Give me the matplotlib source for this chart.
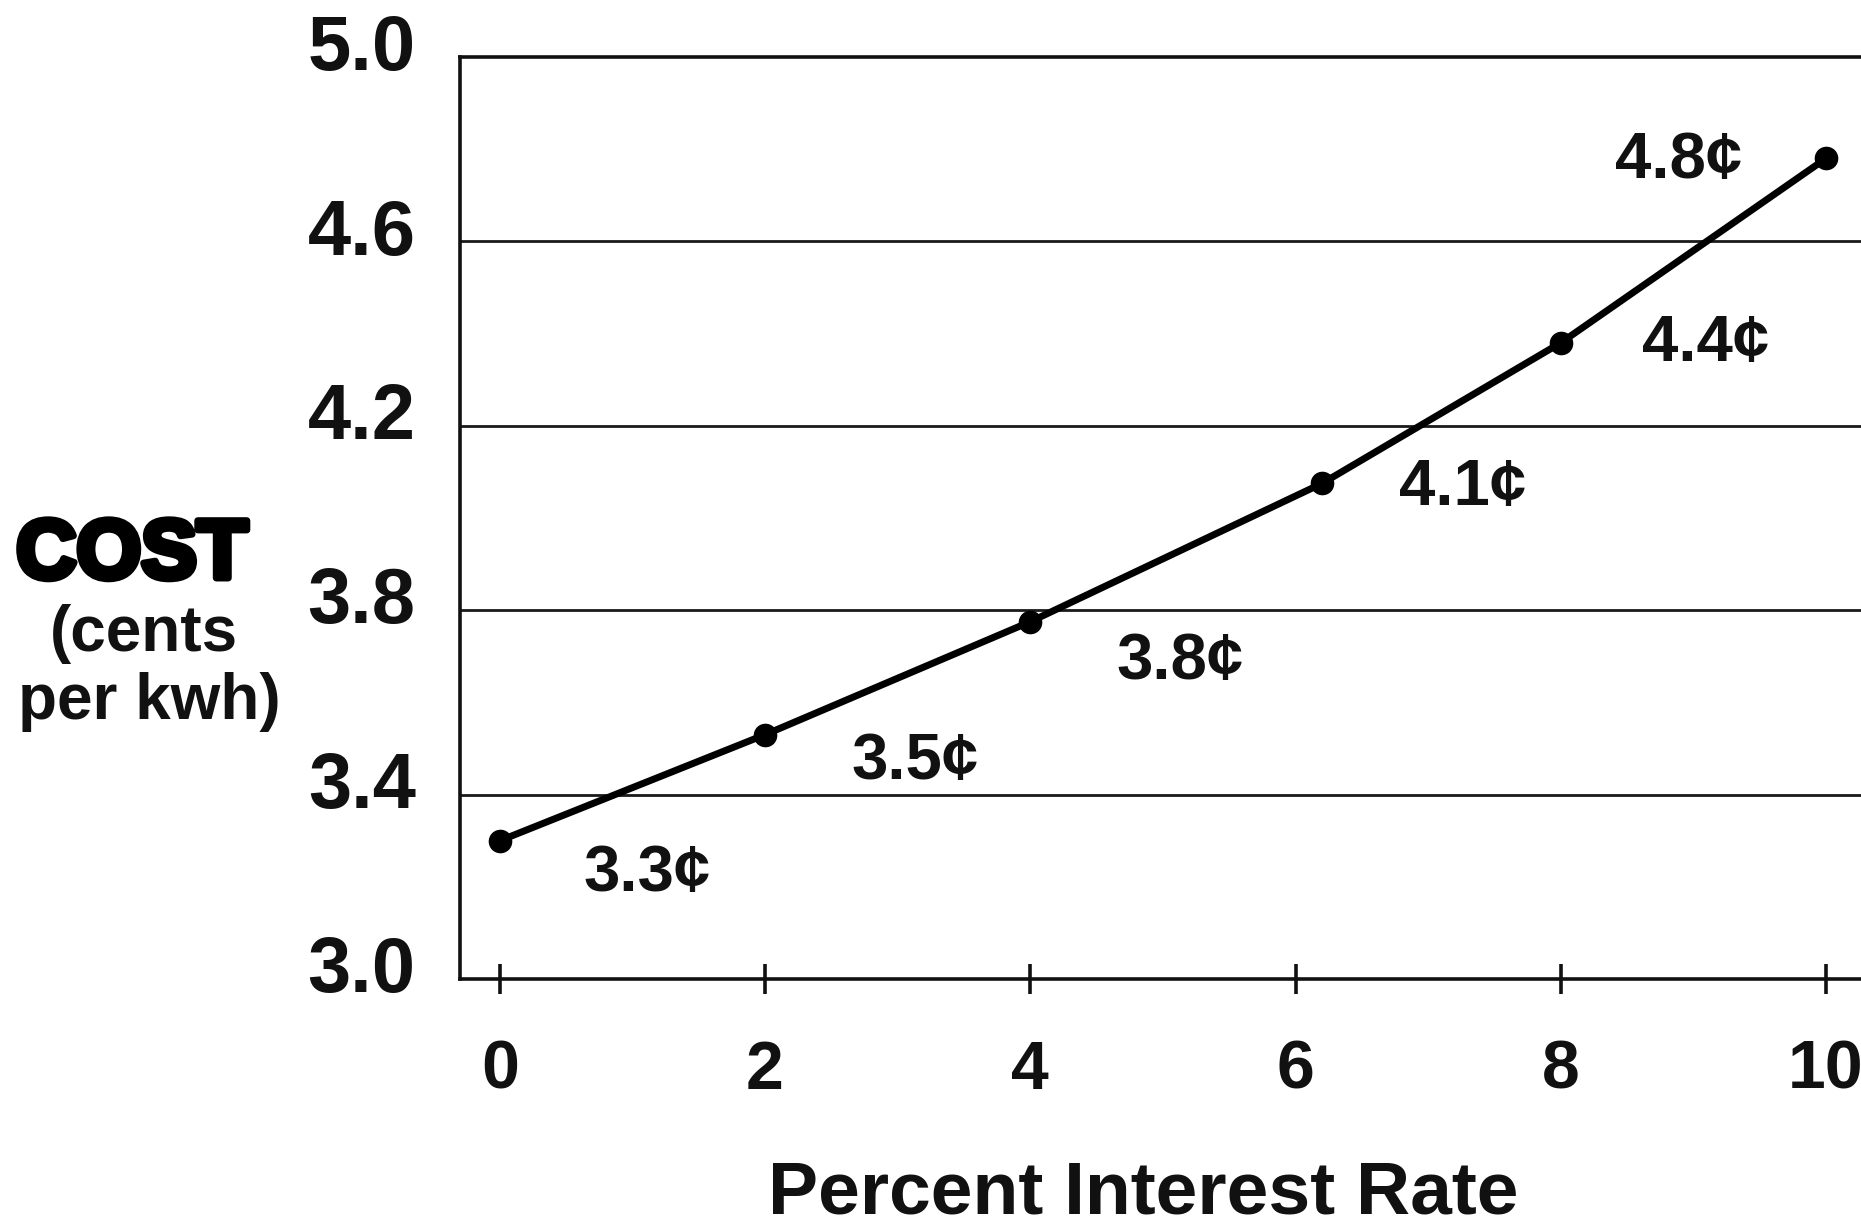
import matplotlib
matplotlib.use("Agg")
import matplotlib.pyplot as plt
import matplotlib.patheffects as pe
from matplotlib.transforms import ScaledTranslation

# ---- data ----
interest_rate = [0, 2, 4, 6.2, 8, 10]
cost = [3.30, 3.53, 3.775, 4.075, 4.38, 4.78]
cost_labels = ["3.3¢", "3.5¢", "3.8¢", "4.1¢", "4.4¢", "4.8¢"]
x_ticks = [0, 2, 4, 6, 8, 10]
x_tick_labels = ["0", "2", "4", "6", "8", "10"]
y_ticks = [3.0, 3.4, 3.8, 4.2, 4.6, 5.0]
y_tick_labels = ["3.0", "3.4", "3.8", "4.2", "4.6", "5.0"]

# label offsets (points) relative to each marker - styling only
label_offsets = [(106, -24), (108, -20), (108, -29), (101, -3), (104, -1), (-106, -2)]

FONT = ["Liberation Sans", "DejaVu Sans"]
plt.rcParams["font.family"] = FONT

W, H = 1861, 1225
fig = plt.figure(figsize=(W / 100, H / 100), dpi=100)
fig.patch.set_facecolor("white")

left_px, bottom_px, top_px = 460, 979, 57
xmin, xmax = -0.30, 10.5
px_per_unit = 132.6
right_px = 500 + xmax * px_per_unit
ax = fig.add_axes([left_px / W, 1 - bottom_px / H,
                   (right_px - left_px) / W, (bottom_px - top_px) / H])
ax.set_xlim(xmin, xmax)
ax.set_ylim(3.0, 5.0)

for s in ["left", "bottom", "top"]:
    ax.spines[s].set_linewidth(2.6)
    ax.spines[s].set_color("#111111")
ax.spines["right"].set_visible(False)

# grid lines
for yv in y_ticks[1:-1]:
    ax.axhline(yv, color="#1a1a1a", lw=2.0, zorder=1)

ax.plot(interest_rate, cost, color="black", lw=5, marker="o",
        markersize=16, zorder=3, solid_capstyle="round")

for xv, yv, lab, off in zip(interest_rate, cost, cost_labels, label_offsets):
    ax.annotate(lab, (xv, yv), xytext=off, textcoords="offset points",
                ha="center", va="center", fontsize=47, fontweight="bold",
                color="#111111")

ax.set_xticks(x_ticks)
ax.set_xticklabels(x_tick_labels)
ax.set_yticks(y_ticks)
ax.set_yticklabels(y_tick_labels)
ax.tick_params(axis="x", direction="inout", length=22, width=2.6,
               pad=32, labelsize=49, colors="#111111")
ax.tick_params(axis="y", length=0, pad=32, labelsize=56, colors="#111111")
for t in ax.get_xticklabels() + ax.get_yticklabels():
    t.set_fontweight("bold")
shift = ScaledTranslation(0, 11 / 72, fig.dpi_scale_trans)
for t in ax.get_yticklabels():
    t.set_transform(t.get_transform() + shift)

# y-axis title block
cost_txt = fig.text(132 / W, 1 - 556 / H, "COST", ha="center", va="center",
                    fontsize=60, fontweight="bold", color="black")
cost_txt.set_path_effects([pe.withStroke(linewidth=5, foreground="black")])
fig.text(144 / W, 1 - 634 / H, "(cents", ha="center", va="center",
         fontsize=46, fontweight="bold", color="#111111")
fig.text(149 / W, 1 - 702 / H, "per kwh)", ha="center", va="center",
         fontsize=46, fontweight="bold", color="#111111")

fig.text(1143 / W, 1 - 1213 / H, "Percent Interest Rate", ha="center",
         va="baseline", fontsize=54, fontweight="bold", color="#111111")

fig.savefig("out.png", dpi=100, facecolor="white")
